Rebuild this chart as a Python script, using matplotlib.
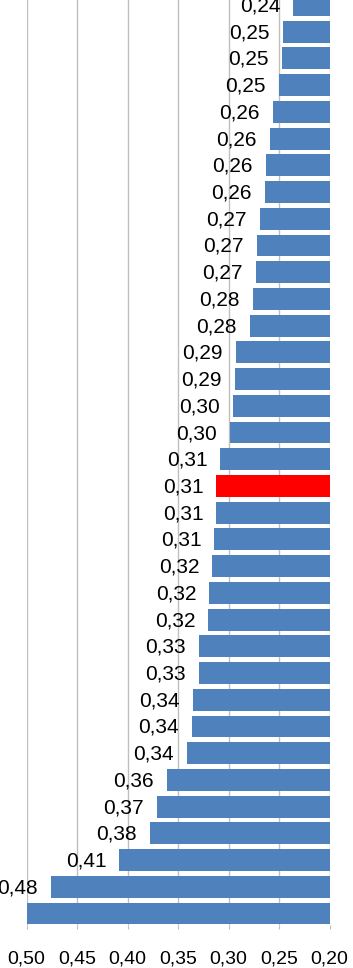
import numpy as np
import matplotlib
matplotlib.use("Agg")
import matplotlib.pyplot as plt

plt.rcParams["font.family"] = ["Liberation Sans", "DejaVu Sans"]

# values, top bar first
values = [0.236, 0.246, 0.247, 0.250, 0.256, 0.259, 0.263, 0.264, 0.269,
          0.272, 0.273, 0.276, 0.279, 0.293, 0.294, 0.296, 0.299, 0.308,
          0.312, 0.312, 0.314, 0.316, 0.319, 0.320, 0.329, 0.329, 0.335,
          0.336, 0.341, 0.361, 0.371, 0.378, 0.408, 0.476, 0.500]
highlight = 18  # index of the red bar (top bar = 0)
x_ticks = [0.50, 0.45, 0.40, 0.35, 0.30, 0.25, 0.20]

blue = "#4F81BD"
red = "#FF0000"
grid_col = "#BFBFBF"

n = len(values)
ypos = np.arange(n)[::-1]  # top bar gets the highest position
colors = [red if i == highlight else blue for i in range(n)]

fig = plt.figure(figsize=(3.53, 9.68), dpi=100)
ax = fig.add_axes([0.0751, 0.0444, 0.8584, 0.967])

ax.barh(ypos, values, height=0.82, color=colors, zorder=3)

# the bottom bar's label falls outside the picture in the original, so skip it
for v, y in zip(values[:-1], ypos[:-1]):
    ax.annotate(f"{v:.2f}".replace(".", ","), (v, y), xytext=(-13, -1),
                textcoords="offset pixels", ha="right", va="center",
                fontsize=15, color="black")

ax.set_xlim(0.50, 0.20)
ax.set_ylim(-0.43, 34.6)
ax.set_xticks(x_ticks)
ax.set_xticklabels([f"{t:.2f}".replace(".", ",") for t in x_ticks], fontsize=14)
ax.set_yticks([])
ax.tick_params(axis="x", length=3, color=grid_col, pad=15)
ax.grid(axis="x", color=grid_col, linewidth=1, zorder=0)
for s in ax.spines.values():
    s.set_visible(False)

fig.savefig("out.png", dpi=100)
